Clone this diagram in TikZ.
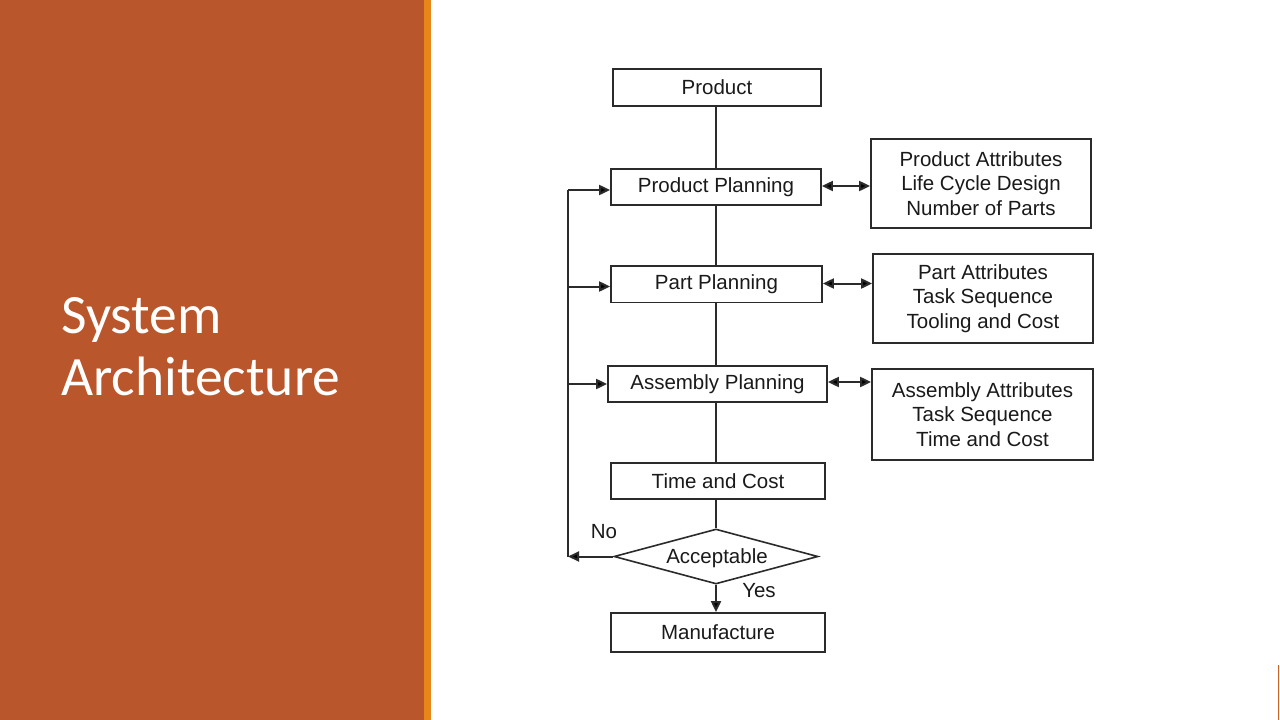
\documentclass[tikz,border=0pt]{standalone}
\usepackage{fontspec}
\setmainfont{Liberation Sans}
\newfontfamily\titlefont{Carlito}
\usetikzlibrary{arrows.meta,shapes.geometric}
\definecolor{panel}{HTML}{BA562B}
\definecolor{stripe}{HTML}{E8861A}
\definecolor{ink}{HTML}{1A1A1A}
\definecolor{edge}{HTML}{2B2B2B}
\tikzset{
  box/.style={draw=edge,line width=1.8pt,inner sep=0pt,text=ink,
    font=\fontsize{20.5}{24.5}\selectfont,align=center},
  decision/.style={draw=edge,line width=1.6pt,diamond,inner sep=0pt,
    minimum width=204pt,minimum height=55pt},
  link/.style={draw=edge,line width=2pt},
  tip/.tip={Triangle[length=11pt,width=10pt,fill=black]},
  arr/.style={link,-tip},
  darr/.style={link,tip-tip},
  lbl/.style={text=ink,font=\fontsize{20.5}{24.5}\selectfont,inner sep=0pt},
  titletext/.style={text=white,font=\titlefont\fontsize{55.5}{62}\selectfont,inner sep=0pt,anchor=base west}
}
\begin{document}
\begin{tikzpicture}[x=1pt,y=-1pt]
\useasboundingbox (0,0) rectangle (1280,720);
\fill[white] (0,0) rectangle (1280,720);
\fill[panel] (0,0) rectangle (424,720);
\fill[stripe] (424,0) rectangle (431,720);
\draw[color=panel!70!stripe,line width=1.5pt] (1278.5,665) -- (1278.5,720);

\node[titletext] (t1) at (61,333) {System};
\node[titletext] (t2) at (61,395) {Architecture};

\node[box,minimum width=208pt,minimum height=37pt] (prod) at (717,87.5) {Product};
\node[box,minimum width=210pt,minimum height=36pt] (pp) at (716,187) {Product Planning};
\node[box,minimum width=211pt,minimum height=36.5pt] (part) at (716.5,284.3) {Part Planning};
\node[box,minimum width=219pt,minimum height=36pt] (asm) at (717.5,384) {Assembly Planning};
\node[box,minimum width=214pt,minimum height=36pt] (tc) at (718,481) {Time and Cost};
\node[decision] (dia) at (716,556.5) {};
\node[lbl] (diatext) at (717,558) {Acceptable};
\node[box,minimum width=214pt,minimum height=39pt] (man) at (718,632.5) {Manufacture};

\node[box,minimum width=220pt,minimum height=89pt] (r1) at (981,183.5) {Product Attributes\\Life Cycle Design\\Number of Parts};
\node[box,minimum width=220pt,minimum height=89pt] (r2) at (983,298.5) {Part Attributes\\Task Sequence\\Tooling and Cost};
\node[box,minimum width=221pt,minimum height=91pt] (r3) at (982.5,414.5) {Assembly Attributes\\Task Sequence\\Time and Cost};

\node[lbl] (no) at (604,532) {No};
\node[lbl] (yes) at (759,591) {Yes};

% main spine
\draw[link] (716,106) -- (716,169);
\draw[link] (716,205) -- (716,266);
\draw[link] (716,302.5) -- (716,366);
\draw[link] (716,402) -- (716,463);
\draw[link] (716,499) -- (dia.north);
\draw[arr] (dia.south) -- (dia.south |- man.north);

% feedback loop
\coordinate (fb) at (568,556.5);
\coordinate (fbtop) at (568,190);
\coordinate (fbpart) at (568,286.5);
\coordinate (fbasm) at (568,384);
\draw[arr] (dia.west) -- (fb);
\draw[link] (fb) -- (fbtop);
\draw[arr] (fbtop) -- (fbtop -| pp.west);
\draw[arr] (fbpart) -- (fbpart -| part.west);
\draw[arr] (fbasm) -- (fbasm -| asm.west);

% side links
\draw[darr] (pp.east |- 0,186) -- (r1.west |- 0,186);
\draw[darr] (part.east |- 0,283.5) -- (r2.west |- 0,283.5);
\draw[darr] (asm.east |- 0,382) -- (r3.west |- 0,382);
\end{tikzpicture}
\end{document}
